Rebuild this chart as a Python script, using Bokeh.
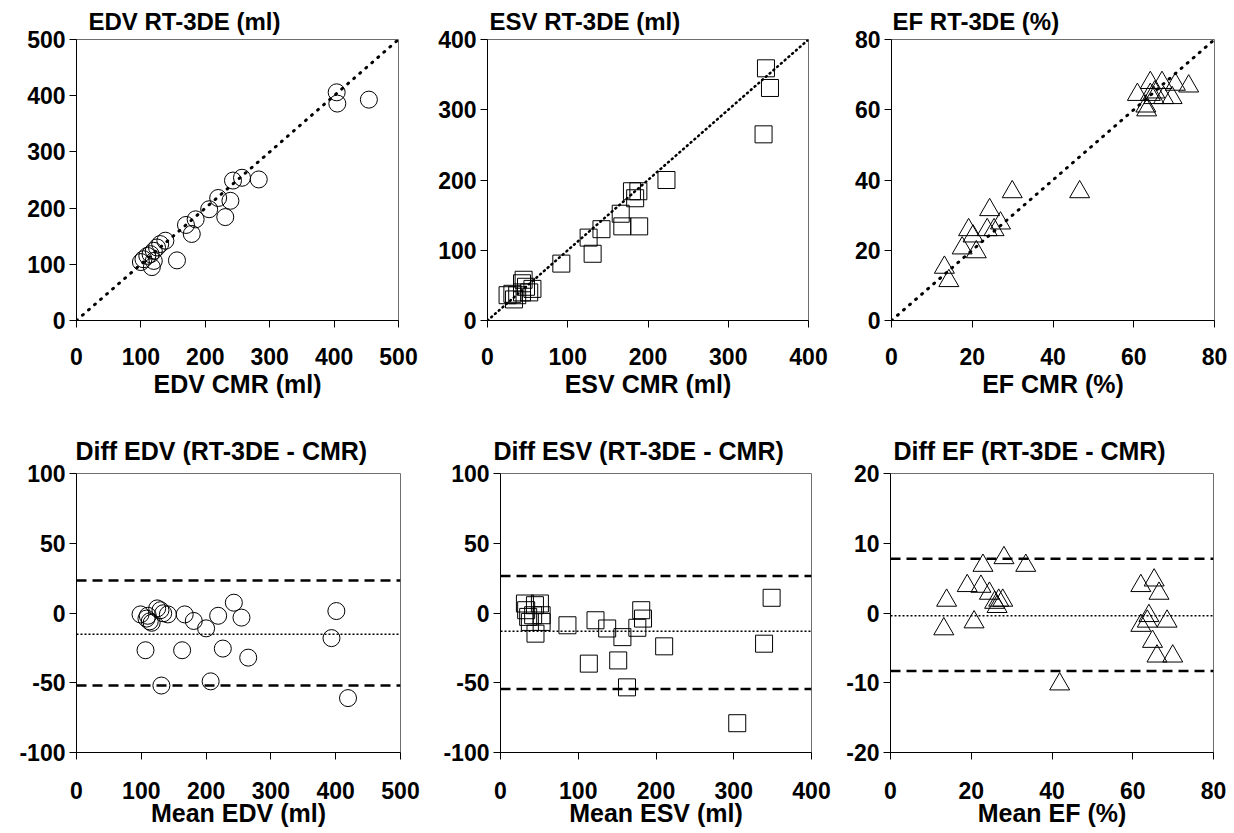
from bokeh.plotting import figure
from bokeh.layouts import column, row
from bokeh.models import Range1d, FixedTicker, Span
from bokeh.embed import file_html
from bokeh.resources import INLINE

FONT = "Liberation Sans"

# ---------------- data ----------------
edv_cmr = [404, 405, 454, 283, 257, 243, 220, 239, 206, 231, 185, 170, 179, 138,
           130, 125, 120, 115, 110, 104, 120, 117, 156, 100]
edv_rt = [406, 386, 393, 251, 254, 249, 218, 213, 198, 184, 180, 170, 154, 142,
          136, 130, 124, 118, 115, 109, 106, 95, 107, 104]

esv_cmr = [347, 352, 344, 223, 180, 188, 184, 166, 168, 189, 142, 126, 131, 92,
           45, 31, 37, 43, 52, 56, 25, 43, 48, 33]
esv_rt = [359, 331, 265, 200, 184, 184, 174, 152, 134, 134, 130, 118, 95, 81,
          58, 38, 36, 40, 40, 45, 36, 53, 48, 30]

ef_cmr = [73.6, 70.3, 67.0, 64.1, 60.9, 64.1, 65.0, 67.4, 69.5, 63.0, 63.2, 46.6,
          29.9, 24.3, 19.1, 23.7, 27.0, 25.4, 20.2, 17.5, 21.0, 13.1, 14.2, 65.2]
ef_rt = [66.7, 67.2, 67.7, 67.7, 64.3, 64.3, 63.4, 63.4, 63.4, 61.0, 59.9, 36.6,
         36.6, 31.5, 25.8, 25.8, 27.7, 25.8, 24.0, 20.6, 19.5, 15.1, 11.3, 65.0]

edv_mean = [98.8, 110, 113, 108, 124.5, 129.6, 133.8, 141, 167, 181, 200, 218.6,
            242.8, 254.6, 106.5, 163, 225.8, 265, 131, 207, 401, 393.5, 419, 116]
edv_diff = [-1, -2, -6, -4, 3.3, 2, -0.2, -1, -1, -5.7, -11, -2,
            7.4, -3.3, -26.7, -26.7, -25.5, -32, -52, -49, 1.4, -18, -61, -7]
edv_loa = [23.3, -15.2, -52.0]   # upper limit, mean difference, lower limit

esv_mean = [348.7, 339, 304.5, 162.7, 113.6, 151.4, 210.5, 156.8, 137.2, 122.2, 86.1,
            181, 183.3, 176, 31.4, 44.3, 50.7, 35.6, 42, 52.9, 37.8, 52.9, 45, 33]
esv_diff = [10.9, -22, -79, -53.3, -36.3, -34, -23.9, -17.3, -11.1, -5.2, -8.8,
            2, -4, -10.6, 6.8, 5.6, 6.8, -2.8, -1.6, -1.6, -6.4, -6.4, -14.8, 2]
esv_loa = [26.5, -13.1, -54.5]

ef_mean = [13.9, 13.2, 19.0, 20.7, 22.4, 22.9, 24.5, 25.8, 26.8, 27.8, 26.4, 28.1,
           33.5, 41.9, 62.0, 65.3, 66.5, 64.0, 63.6, 62.0, 68.5, 64.9, 66.0, 69.9]
ef_diff = [1.8, -2.3, 3.9, -1.3, 3.8, 6.8, 2.8, 1.5, 1.8, 1.8, 0.9, 7.9,
           6.8, -10.2, 3.9, 4.7, 2.8, -0.4, -1.2, -1.8, -1.2, -4.1, -6.2, -6.2]
ef_loa = [7.76, -0.38, -8.3]

edv_ticks = [0, 100, 200, 300, 400, 500]
esv_ticks = [0, 100, 200, 300, 400]
ef_ticks = [0, 20, 40, 60, 80]
vol_diff_ticks = [-100, -50, 0, 50, 100]
ef_diff_ticks = [-20, -10, 0, 10, 20]

titles = ["EDV RT-3DE (ml)", "ESV RT-3DE (ml)", "EF RT-3DE (%)",
          "Diff EDV (RT-3DE - CMR)", "Diff ESV (RT-3DE - CMR)", "Diff EF (RT-3DE - CMR)"]
xlabels = ["EDV CMR (ml)", "ESV CMR (ml)", "EF CMR (%)",
           "Mean EDV (ml)", "Mean ESV (ml)", "Mean EF (%)"]


def make(w, h, left, right, top, bottom, xticks, yticks, title, xlabel,
         title_size, title_off, title_standoff, tick_standoff, label_standoff):
    p = figure(width=w, height=h,
               x_range=Range1d(xticks[0], xticks[-1]),
               y_range=Range1d(yticks[0], yticks[-1]),
               output_backend="svg", toolbar_location=None,
               min_border_left=left, min_border_right=right,
               min_border_top=top, min_border_bottom=bottom,
               title=title)
    p.xgrid.visible = False
    p.ygrid.visible = False
    p.background_fill_color = "white"
    p.border_fill_color = "white"
    p.outline_line_color = "#6e6e6e"
    p.outline_line_width = 1
    p.title.text_font = FONT
    p.title.text_font_size = title_size
    p.title.text_font_style = "bold"
    p.title.text_color = "black"
    p.title.align = "left"
    p.title.offset = title_off
    p.title.standoff = title_standoff
    for ax, ticks in ((p.xaxis[0], xticks), (p.yaxis[0], yticks)):
        ax.ticker = FixedTicker(ticks=ticks)
        ax.major_label_overrides = {t: str(t) for t in ticks}
        ax.major_tick_out = 7
        ax.major_tick_in = 0
        ax.minor_tick_out = 0
        ax.minor_tick_in = 0
        ax.axis_line_color = "black"
        ax.axis_line_width = 1
        ax.major_tick_line_color = "black"
        ax.major_tick_line_width = 1
        ax.major_label_text_font = FONT
        ax.major_label_text_font_size = "23px"
        ax.major_label_text_font_style = "bold"
        ax.major_label_text_color = "black"
    p.yaxis[0].major_label_standoff = 4
    p.xaxis[0].major_label_standoff = tick_standoff
    p.xaxis[0].axis_label = xlabel
    p.xaxis[0].axis_label_text_font = FONT
    p.xaxis[0].axis_label_text_font_size = "25px"
    p.xaxis[0].axis_label_text_font_style = "bold"
    p.xaxis[0].axis_label_text_color = "black"
    p.xaxis[0].axis_label_standoff = label_standoff
    return p


def identity(p, ticks, dash, width):
    lim = [ticks[0], ticks[-1]]
    p.line(x=lim, y=lim, line_color="black", line_width=width,
           line_dash=dash, line_cap="round")


def loa(p, vals):
    for i, v in enumerate(vals):
        if i == 1:
            p.add_layout(Span(location=v, dimension="width", line_color="black",
                              line_width=1.5, line_dash="2 2"))
        else:
            p.add_layout(Span(location=v, dimension="width", line_color="black",
                              line_width=2.5, line_dash="10 6"))


MK = dict(fill_color=None, line_color="black", line_width=1)

# ---------------- top row ----------------
f1 = make(435, 412, 76, 37, 39, 92, edv_ticks, edv_ticks, titles[0], xlabels[0],
          "24px", 12, 9, 20, 2)
identity(f1, edv_ticks, "1 7", 3)
f1.scatter(edv_cmr, edv_rt, marker="circle", size=17, **MK)

f2 = make(403, 412, 50, 30, 39, 92, esv_ticks, esv_ticks, titles[1], xlabels[1],
          "24px", 2, 9, 20, 2)
identity(f2, esv_ticks, "1 4", 2.5)
f2.scatter(esv_cmr, esv_rt, marker="square", size=17, **MK)

f3 = make(392, 412, 53, 16, 39, 92, ef_ticks, ef_ticks, titles[2], xlabels[2],
          "24px", 1, 9, 20, 2)
identity(f3, ef_ticks, "1 7", 3)
f3.scatter(ef_cmr, ef_rt, marker="triangle", size=20, **MK)

# ---------------- bottom row ----------------
f4 = make(438, 419, 76, 38, 61, 79, edv_ticks, vol_diff_ticks, titles[3], xlabels[3],
          "25px", -1, 17, 22, -3)
loa(f4, edv_loa)
f4.scatter(edv_mean, edv_diff, marker="circle", size=17, **MK)

f5 = make(400, 419, 62, 27, 61, 79, esv_ticks, vol_diff_ticks, titles[4], xlabels[4],
          "25px", -7, 17, 22, -3)
loa(f5, esv_loa)
f5.scatter(esv_mean, esv_diff, marker="square", size=17, **MK)

f6 = make(392, 419, 52, 17, 61, 79, ef_ticks, ef_diff_ticks, titles[5], xlabels[5],
          "25px", 3, 17, 22, -3)
loa(f6, ef_loa)
f6.scatter(ef_mean, ef_diff, marker="triangle", size=20, **MK)

layout = column(row(f1, f2, f3, spacing=0), row(f4, f5, f6, spacing=0), spacing=0)

with open("out.html", "w") as fh:
    fh.write(file_html(layout, INLINE))
